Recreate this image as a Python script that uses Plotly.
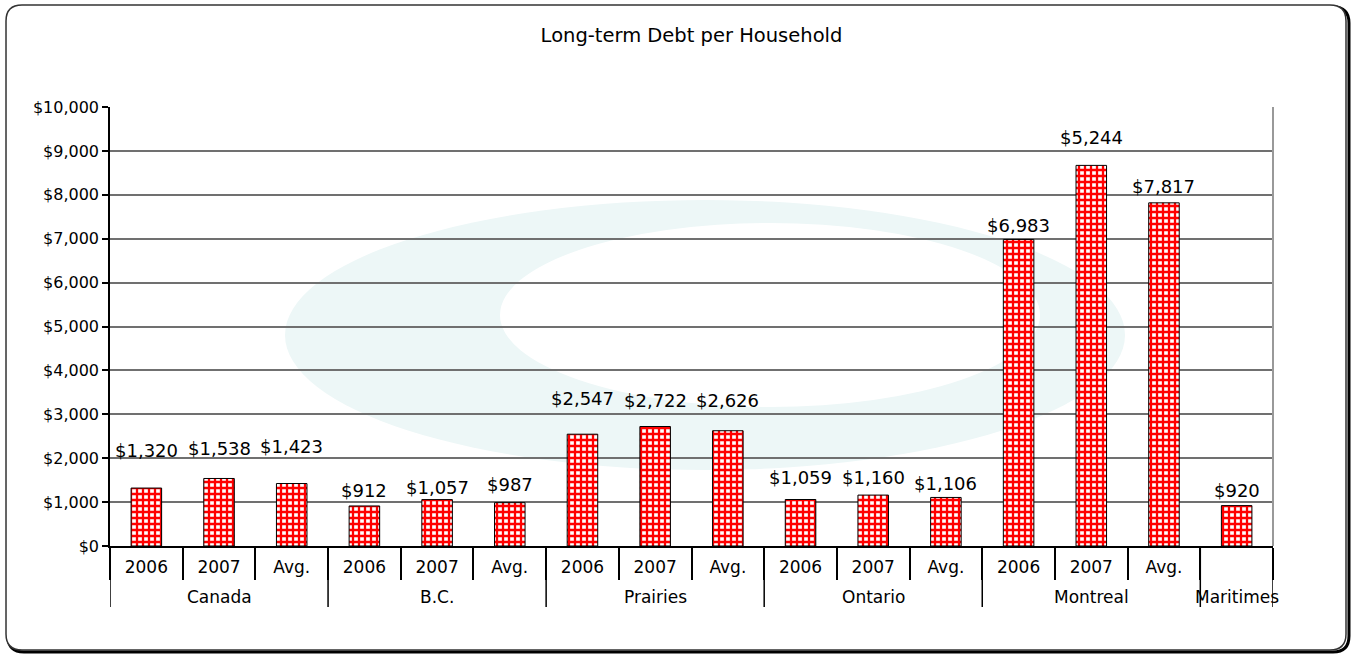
import plotly.graph_objects as go

# ---- data ----
regions = ["Canada", "Canada", "Canada", "B.C.", "B.C.", "B.C.",
           "Prairies", "Prairies", "Prairies", "Ontario", "Ontario", "Ontario",
           "Montreal", "Montreal", "Montreal", "Maritimes"]
periods = ["2006", "2007", "Avg.", "2006", "2007", "Avg.",
           "2006", "2007", "Avg.", "2006", "2007", "Avg.",
           "2006", "2007", "Avg.", ""]
bar_values = [1320, 1538, 1423, 912, 1057, 987,
              2547, 2722, 2626, 1059, 1160, 1106,
              6983, 8670, 7817, 920]
label_texts = ["$1,320", "$1,538", "$1,423", "$912", "$1,057", "$987",
               "$2,547", "$2,722", "$2,626", "$1,059", "$1,160", "$1,106",
               "$6,983", "$5,244", "$7,817", "$920"]
y_ticks = [0, 1000, 2000, 3000, 4000, 5000, 6000, 7000, 8000, 9000, 10000]
y_tick_labels = ["$0", "$1,000", "$2,000", "$3,000", "$4,000", "$5,000",
                 "$6,000", "$7,000", "$8,000", "$9,000", "$10,000"]

# label lift above bar top (pixels), as placed in the original
label_lift = [38, 30, 37, 15, 12, 18, 36, 26, 30, 22, 18, 14, 14, 28, 16, 15]

FONT = "DejaVu Sans"
W, H = 1354, 655
L, R, T, B = 110, 1273, 107, 546

idx = list(range(len(regions)))

fig = go.Figure()


def px2paper(px, py):
    return (px - L) / (R - L), (B - py) / (B - T)


def rounded_path(x0, y0, x1, y1, r):
    parts = []

    def P(cmd, *coords):
        out = cmd
        for j in range(0, len(coords), 2):
            a, b = px2paper(coords[j], coords[j + 1])
            out += f" {a:.5f},{b:.5f}"
        parts.append(out)
    P("M", x0 + r, y0)
    P("L", x1 - r, y0)
    P("Q", x1, y0, x1, y0 + r)
    P("L", x1, y1 - r)
    P("Q", x1, y1, x1 - r, y1)
    P("L", x0 + r, y1)
    P("Q", x0, y1, x0, y1 - r)
    P("L", x0, y0 + r)
    P("Q", x0, y0, x0 + r, y0)
    return " ".join(parts) + " Z"


# shadow + rounded border of the chart
fig.add_shape(type="path", xref="paper", yref="paper", layer="below",
              path=rounded_path(8, 7, 1349, 652, 16), line=dict(color="black", width=3))
fig.add_shape(type="path", xref="paper", yref="paper", layer="below",
              path=rounded_path(6, 5, 1346, 650, 16), line=dict(color="#333333", width=1.5),
              fillcolor="white")

# faint background logo (decorative watermark)
WM = "#edf7f7"
def ell(cx, cy, rx, ry, color):
    a0, b0 = px2paper(cx - rx, cy + ry)
    a1, b1 = px2paper(cx + rx, cy - ry)
    fig.add_shape(type="circle", xref="paper", yref="paper", layer="below",
                  x0=a0, y0=b0, x1=a1, y1=b1, fillcolor=color, line=dict(width=0))
ell(705, 335, 420, 135, WM)
ell(770, 315, 270, 92, "white")

# bars
fig.add_trace(go.Bar(
    x=idx, y=bar_values, width=0.42,
    marker=dict(color="white", line=dict(color="black", width=1),
                pattern=dict(shape="+", fgcolor="#ff0000", bgcolor="white",
                             fgopacity=1, size=6, solidity=0.62)),
    hoverinfo="y", showlegend=False,
))

# data labels
for i, (v, t, s) in enumerate(zip(bar_values, label_texts, label_lift)):
    fig.add_annotation(x=i, y=v, text=t, showarrow=False, yanchor="middle",
                       yshift=s, font=dict(family=FONT, size=18, color="black"))

# outer category labels + dividers
groups = []
for i, r in enumerate(regions):
    if not groups or groups[-1][0] != r:
        groups.append([r, i, i])
    else:
        groups[-1][2] = i
y_outer = (B - 597) / (B - T)
y_div = (B - 607) / (B - T)
bounds = set()
for name, a, b in groups:
    fig.add_annotation(x=(a + b) / 2, y=y_outer, yref="paper", text=name,
                       showarrow=False, yanchor="middle",
                       font=dict(family=FONT, size=17, color="black"))
    bounds.add(a - 0.5)
    bounds.add(b + 0.5)
for bx in sorted(bounds):
    fig.add_shape(type="line", xref="x", yref="paper", x0=bx, x1=bx, y0=0, y1=y_div,
                  line=dict(color="black", width=1.5))

# plot-area frame on the right
fig.add_shape(type="line", xref="paper", yref="paper", x0=1, x1=1, y0=0, y1=1,
              line=dict(color="#999999", width=2))

fig.update_layout(
    width=W, height=H,
    margin=dict(l=L, r=W - R, t=T, b=H - B),
    paper_bgcolor="rgba(0,0,0,0)", plot_bgcolor="rgba(0,0,0,0)",
    font=dict(family=FONT, size=17, color="black"),
    title=dict(text="Long-term Debt per Household", x=0.5, xref="paper", xanchor="center",
               y=1 - 35 / H, yanchor="middle",
               font=dict(family=FONT, size=19.5, color="black")),
)
fig.update_yaxes(range=[0, 10000], tickvals=y_ticks, ticktext=y_tick_labels,
                 showgrid=True, gridcolor="#707070", gridwidth=1.5,
                 showline=True, linecolor="black", linewidth=1.5,
                 ticks="outside", ticklen=6, tickcolor="black", tickwidth=1.5,
                 zeroline=False, tickfont=dict(family=FONT, size=16))
fig.update_xaxes(range=[-0.5, len(idx) - 0.5], tickvals=idx, ticktext=periods,
                 showline=True, linecolor="black", linewidth=1.5, showgrid=False,
                 zeroline=False,
                 ticks="outside", ticklen=5, tickcolor="rgba(0,0,0,0)",
                 minor=dict(tickvals=[i + 0.5 for i in range(-1, len(idx))],
                            ticks="outside", ticklen=32, tickcolor="black",
                            tickwidth=1.5, showgrid=False),
                 tickfont=dict(family=FONT, size=17))

fig.write_html("out.html", config={"displayModeBar": False},
               post_script="document.body.style.margin='0';")
